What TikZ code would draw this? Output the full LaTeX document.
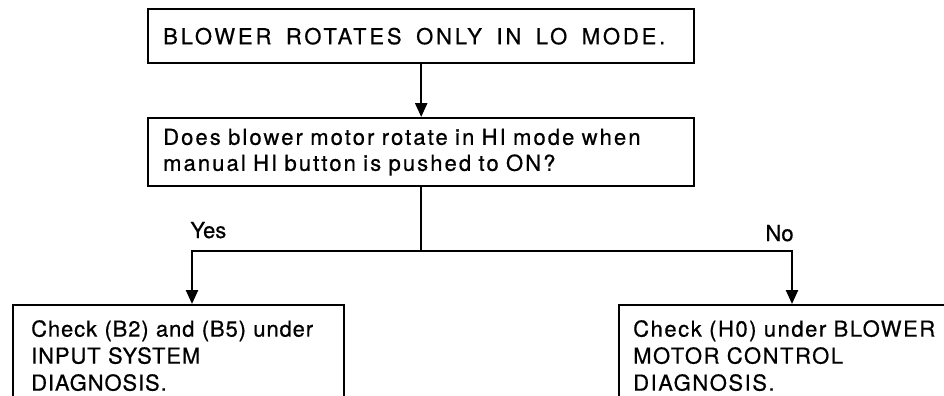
\documentclass[tikz,border=0pt]{standalone}
\usepackage{fontspec}
\setmainfont[FakeBold=0.6]{TeX Gyre Heros}
\newfontfamily\fTop[LetterSpace=13,FakeBold=0.6]{TeX Gyre Heros}
\newfontfamily\fQ[LetterSpace=9.5,FakeBold=0.6]{TeX Gyre Heros}
\newfontfamily\fL[LetterSpace=4,FakeBold=0.6]{TeX Gyre Heros}
\newfontfamily\fR[LetterSpace=7,FakeBold=0.6]{TeX Gyre Heros}
\newcommand\wgap{\hspace{3.6pt}}
\usetikzlibrary{arrows.meta}
\tikzset{
  box/.style={draw, line width=1.2pt, anchor=north west, align=left, inner ysep=0pt},
  flow/.style={line width=1.2pt},
  arrowline/.style={flow, -{Triangle[length=7pt,width=6pt]}},
  lbl/.style={inner sep=0pt, font=\fontsize{11}{13}\selectfont},
}
\begin{document}
\begin{tikzpicture}[x=0.5pt,y=-0.5pt]
\useasboundingbox (0,0) rectangle (944,396);
\clip (0,0) rectangle (944,396);
\node[box, minimum width=273pt, minimum height=27pt, text width=258pt, inner xsep=7.5pt,
  font=\fontsize{11}{13}\fTop] (top) at (147,8) {BLOWER\wgap{} ROTATES\wgap{} ONLY\wgap{} IN\wgap{} LO\wgap{} MODE.};
\node[box, minimum width=273pt, minimum height=34pt, text width=258pt, inner xsep=7.5pt,
  font=\fontsize{11}{13}\fQ] (q) at (147,117) {Does blower motor rotate in HI mode when\\manual HI button is pushed to ON?};
\node[box, minimum width=165.5pt, text width=147.5pt, inner xsep=9pt, inner ysep=7.5pt,
  font=\fontsize{11}{13.5}\fL] (yesbox) at (12,304) {Check (B2) and (B5) under\\INPUT SYSTEM\\DIAGNOSIS.};
\node[box, minimum width=174pt, text width=160pt, inner xsep=7pt, inner ysep=7.5pt,
  font=\fontsize{11}{13.5}\fR] (nobox) at (618,304) {Check (H0) under BLOWER\\MOTOR CONTROL\\DIAGNOSIS.};
\node[lbl, anchor=base west] (yes) at (190,238) {Yes};
\node[lbl, anchor=base east] (no) at (794,241) {No};
\coordinate (yl) at (192,251);
\coordinate (nl) at (792,251);
\coordinate (j) at (q.south |- yl);
\draw[arrowline] (top.south) -- (q.north);
\draw[flow] (q.south) -- (j);
\draw[arrowline] (j) -- (yl) -- (yl |- yesbox.north);
\draw[arrowline] (j) -- (nl) -- (nl |- nobox.north);
\end{tikzpicture}
\end{document}
